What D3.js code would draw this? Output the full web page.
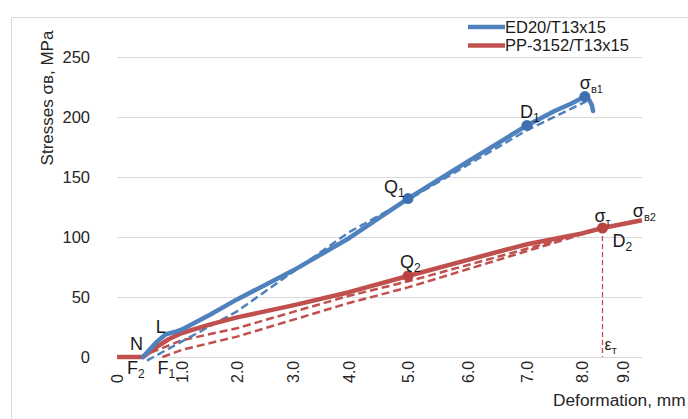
<!DOCTYPE html>
<html><head><meta charset="utf-8">
<script src="https://cdn.jsdelivr.net/npm/d3@7"></script>
<style>
html,body{margin:0;padding:0;background:#fff;}
svg{display:block;font-family:"Liberation Sans",Arial,sans-serif;}
</style></head>
<body><svg id="chart" width="688" height="419"></svg>
<script>
// ---- data ----
const xTickValues = [0,1,2,3,4,5,6,7,8,9];
const xTickLabels = ["0","1.0","2.0","3.0","4.0","5.0","6.0","7.0","8.0","9.0"];
const yTickValues = [0,50,100,150,200,250];
const seriesNames = ["ED20/T13x15","PP-3152/T13x15"];
const seriesColors = ["#4f81bd","#c0504d"];

const ed20X = [0.40,0.50,0.62,0.75,0.9,1.0,1.5,2.0,3.0,4.0,5.0,6.0,7.0,7.5,7.8,8.07,8.18,8.24,8.27];
const ed20Y = [0,6,13,19,21,23,35,48,72,99,132,163,193,205,211,217,214,210,205];
const ed20DashX = [0.46,2.0,4.0,5.0,7.0,8.1];
const ed20DashY = [-3,38,104,131,189,213];

const ppX = [0,0.40,0.6,0.8,1.0,1.5,2.0,3.0,4.0,5.0,6.0,7.0,8.0,8.5,9.46];
const ppY = [0,0,8,15,20,27,33,43,54,67.5,81,94,103,107.5,114];
const ppDash1X = [0.35,1.0,2.0,4.0,5.0,8.5];
const ppDash1Y = [0,14,24,51,63,107.5];
const ppDash2X = [0.7,1.0,2.0,4.0,5.0,8.5];
const ppDash2Y = [0,6,17,45,58,107.5];

const yieldStrainX = 8.5;     // ετ
const yieldStressY = 107.5;   // στ

const pointsED = [{x:5.0,y:132},{x:7.0,y:193},{x:8.07,y:217}];
const pointsPP = [{x:5.0,y:67.5},{x:8.5,y:107.5}];

// ---- scales ----
const svg = d3.select("#chart");
const x = d3.scaleLinear().domain(xTickValues).range([117,182,237,293,349,408,468,527,582,623]);
const y = d3.scaleLinear().domain([0,250]).range([357,57]);
const plotRight = 642;

// chart border
svg.append("rect").attr("x",11.5).attr("y",17.5).attr("width",700).attr("height",420)
  .attr("fill","none").attr("stroke","#d9d9d9");

// gridlines
svg.append("g").selectAll("line").data(yTickValues).join("line")
  .attr("x1",x(0)).attr("x2",plotRight)
  .attr("y1",d=>Math.round(y(d))+0.5).attr("y2",d=>Math.round(y(d))+0.5)
  .attr("stroke","#d9d9d9").attr("stroke-width",1);

// y tick labels
svg.append("g").selectAll("text").data(yTickValues).join("text")
  .attr("x",90).attr("y",d=>y(d)).attr("dy","0.35em").attr("text-anchor","end")
  .attr("font-size",16.5).attr("fill","#262626").text(d=>d);

// x tick labels (rotated)
svg.append("g").selectAll("text").data(xTickValues).join("text")
  .attr("transform",d=>`translate(${x(d)},383) rotate(-90)`)
  .attr("dy","0.35em").attr("text-anchor","start")
  .attr("font-size",16).attr("fill","#262626").text((d,i)=>xTickLabels[i]);

// axis titles
svg.append("text").attr("transform","translate(47,98) rotate(-90)")
  .attr("text-anchor","middle").attr("dy","0.35em").attr("font-size",17).attr("fill","#262626")
  .text("Stresses σв, MPa");
svg.append("text").attr("x",553).attr("y",406).attr("font-size",17.3).attr("fill","#262626")
  .text("Deformation, mm");

const line = d3.line().x(d=>x(d[0])).y(d=>y(d[1]));
const zip = (a,b)=>a.map((v,i)=>[v,b[i]]);

// dashed construction lines
function dashed(xs,ys,color){
  svg.append("path").datum(zip(xs,ys)).attr("d",line).attr("fill","none")
    .attr("stroke",color).attr("stroke-width",2.5).attr("stroke-dasharray","8,4");
}
dashed(ppDash1X,ppDash1Y,seriesColors[1]);
dashed(ppDash2X,ppDash2Y,seriesColors[1]);
dashed(ed20DashX,ed20DashY,seriesColors[0]);

// vertical yield line
svg.append("line").attr("x1",x(yieldStrainX)).attr("x2",x(yieldStrainX))
  .attr("y1",y(yieldStressY)).attr("y2",y(0))
  .attr("stroke",seriesColors[1]).attr("stroke-width",1.3).attr("stroke-dasharray","5,3");

// solid curves
svg.append("path").datum(zip(ppX,ppY)).attr("d",line).attr("fill","none")
  .attr("stroke",seriesColors[1]).attr("stroke-width",4.5).attr("stroke-linejoin","round");
svg.append("path").datum(zip(ed20X,ed20Y)).attr("d",line).attr("fill","none")
  .attr("stroke",seriesColors[0]).attr("stroke-width",4.5).attr("stroke-linejoin","round").attr("stroke-linecap","round");

// markers
svg.append("g").selectAll("circle").data(pointsED).join("circle")
  .attr("cx",d=>x(d.x)).attr("cy",d=>y(d.y)).attr("r",5.5).attr("fill","#3f6fae");
svg.append("g").selectAll("circle").data(pointsPP).join("circle")
  .attr("cx",d=>x(d.x)).attr("cy",d=>y(d.y)).attr("r",5.5).attr("fill","#b8433f");

// point labels
function label(px,py,main,sub,size,subSize){
  const t = svg.append("text").attr("x",px).attr("y",py).attr("font-size",size||18).attr("fill","#1a1a1a");
  t.append("tspan").text(main);
  if(sub) t.append("tspan").attr("font-size",subSize||12).attr("dy",4).text(sub);
}
label(x(5.0)-24, y(132)-6, "Q","1");
label(x(7.0)-7, y(193)-7, "D","1");
label(x(8.07)-5, y(217)-8, "σ","в1",18,11);
label(x(5.0)-8, y(67.5)-8, "Q","2");
label(x(8.5)+10, y(107.5)+19, "D","2");
label(x(8.5)-8, y(107.5)-6, "σ","т",18,11);
label(x(9.46)-9, y(114)-3, "σ","в2",18,11);
label(x(8.5)+2, y(0)-7, "ε","т",16,11);
label(x(0.75)-10, y(18)-2, "L");
label(x(0.4)-13, y(0)-7, "N");
label(x(0.4)-16, y(0)+17, "F","2");
label(x(0.7)-5, y(0)+17, "F","1");

// legend
const lg = svg.append("g");
seriesNames.forEach((n,i)=>{
  lg.append("line").attr("x1",468).attr("x2",505).attr("y1",27+i*18.5).attr("y2",27+i*18.5)
    .attr("stroke",seriesColors[i]).attr("stroke-width",4.5);
  lg.append("text").attr("x",505).attr("y",27+i*18.5).attr("dy","0.35em")
    .attr("font-size",16.5).attr("fill","#1a1a1a").text(n);
});
</script></body></html>
